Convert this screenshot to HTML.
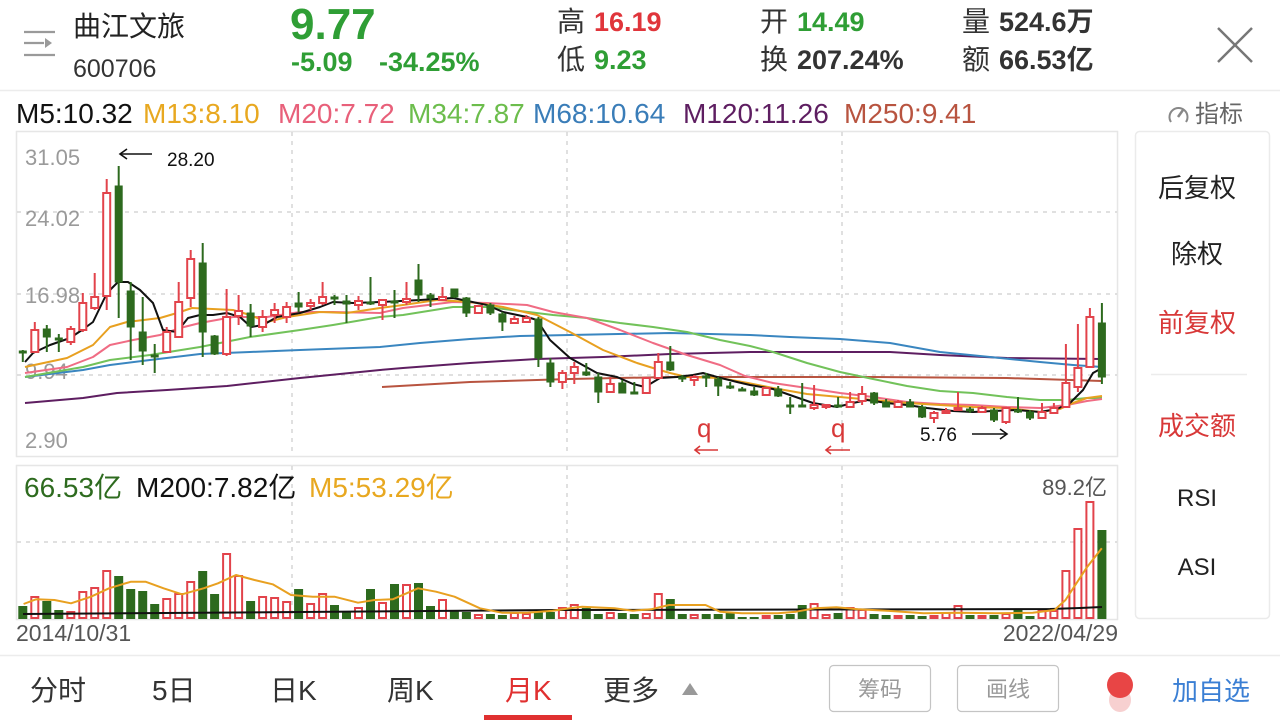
<!DOCTYPE html>
<html><head><meta charset="utf-8"><style>
html,body{margin:0;padding:0;background:#fff;width:1280px;height:720px;overflow:hidden}
svg{display:block}
text{font-family:"Liberation Sans","Noto Sans CJK SC",sans-serif}
</style></head><body>
<svg width="1280" height="720" viewBox="0 0 1280 720" xmlns="http://www.w3.org/2000/svg">
<rect width="1280" height="720" fill="#fff"/>
<!-- header -->
<g stroke="#9a9a9a" stroke-width="2.2" fill="none">
<line x1="24" y1="32" x2="55" y2="32"/><line x1="24" y1="43" x2="44" y2="43"/><line x1="24" y1="55" x2="55" y2="55"/>
</g>
<polygon points="45,38 52,43 45,48" fill="#9a9a9a"/>
<text x="73" y="36" font-size="28" fill="#222">曲江文旅</text>
<text x="73" y="77" font-size="25" fill="#333">600706</text>
<text x="290" y="39" font-size="44" font-weight="bold" fill="#2f9e35">9.77</text>
<text x="291" y="71" font-size="27" font-weight="bold" fill="#2f9e35">-5.09</text>
<text x="379" y="71" font-size="27" font-weight="bold" fill="#2f9e35">-34.25%</text>
<text x="557" y="31" font-size="28" fill="#333">高</text><text x="594" y="31" font-size="27" font-weight="bold" fill="#e0353b">16.19</text>
<text x="557" y="69" font-size="28" fill="#333">低</text><text x="594" y="69" font-size="27" font-weight="bold" fill="#2f9e35">9.23</text>
<text x="760" y="31" font-size="28" fill="#333">开</text><text x="797" y="31" font-size="27" font-weight="bold" fill="#2f9e35">14.49</text>
<text x="760" y="69" font-size="28" fill="#333">换</text><text x="797" y="69" font-size="27" font-weight="bold" fill="#333">207.24%</text>
<text x="962" y="31" font-size="28" fill="#333">量</text><text x="999" y="31" font-size="27" font-weight="bold" fill="#333">524.6万</text>
<text x="962" y="69" font-size="28" fill="#333">额</text><text x="999" y="69" font-size="27" font-weight="bold" fill="#333">66.53亿</text>
<g stroke="#777" stroke-width="2.5"><line x1="1218" y1="28" x2="1252" y2="62"/><line x1="1252" y1="28" x2="1218" y2="62"/></g>
<line x1="0" y1="90.5" x2="1280" y2="90.5" stroke="#ececec" stroke-width="1.5"/>
<!-- MA legend -->
<g font-size="28">
<text x="16" y="123" fill="#111">M5:10.32</text>
<text x="143" y="123" fill="#e8a820">M13:8.10</text>
<text x="278" y="123" fill="#e8607a">M20:7.72</text>
<text x="408" y="123" fill="#6cbd4c">M34:7.87</text>
<text x="533" y="123" fill="#3a7db8">M68:10.64</text>
<text x="683" y="123" fill="#5e1e61">M120:11.26</text>
<text x="844" y="123" fill="#b85440">M250:9.41</text>
</g>
<path d="M1171,122 A9,9 0 1 1 1186,122" fill="none" stroke="#888" stroke-width="2"/>
<line x1="1178" y1="117" x2="1183" y2="110" stroke="#888" stroke-width="2.5"/>
<text x="1195" y="122" font-size="24" fill="#666">指标</text>
<!-- main frame -->
<rect x="16.5" y="131.5" width="1101" height="325" fill="#fff" stroke="#e6e6e6" stroke-width="1.5"/>
<g stroke="#d6d6d6" stroke-width="1.5" stroke-dasharray="4,5">
<line x1="17" y1="212" x2="1117" y2="212"/><line x1="17" y1="294" x2="1117" y2="294"/><line x1="17" y1="375" x2="1117" y2="375"/>
<line x1="292" y1="132" x2="292" y2="456"/><line x1="567" y1="132" x2="567" y2="456"/><line x1="842" y1="132" x2="842" y2="456"/>
</g>
<g font-size="22" fill="#9a9a9a">
<text x="25" y="165">31.05</text><text x="25" y="226">24.02</text><text x="25" y="303">16.98</text><text x="25" y="379">9.94</text><text x="25" y="448">2.90</text>
</g>
<!-- moving averages -->
<g fill="none" stroke-width="2" stroke-linejoin="round">
<polyline stroke="#5e1e61" points="25,403 83,398 117,393 167,390 227,386 300,378 380,370 403,368 470,363 537,359 603,357 670,354 750,352 840,352 890,352 940,355 1007,358 1102,359"/>
<polyline stroke="#b85440" points="382,387 470,382 570,379 670,377 750,377 873,377 1007,378 1102,381"/>
<polyline stroke="#3a86c0" points="25,377 83,370 110,365 150,360 200,354 250,352 300,350 380,347 420,343 470,339 520,336 570,335 670,333 750,335 790,337 840,339 890,343 940,352 990,357 1040,362 1073,365 1102,367"/>
<polyline stroke="#72c25a" points="25,377 83,367 110,360 150,355 200,347 250,337 300,330 333,325 380,317 403,315 453,307 487,307 520,311 553,315 587,318 620,323 653,327 687,332 720,340 750,346 773,352 807,363 840,372 873,379 907,386 940,391 973,393 1007,397 1040,400 1067,400 1087,398 1102,398"/>
<polyline stroke="#f06c84" points="25,373 67,367 93,357 110,345 133,340 160,335 180,328 200,323 233,317 267,317 300,312 333,312 380,313 403,308 453,302 487,303 527,305 553,312 587,318 620,330 653,343 687,355 720,365 745,376 773,383 807,388 840,393 873,397 907,402 940,404 973,405 1007,407 1040,408 1067,405 1087,401 1102,399"/>
<polyline stroke="#e8a020" points="25,367 67,358 93,345 110,327 127,322 160,318 177,313 192,308 233,310 250,315 267,322 287,317 320,312 347,313 380,308 403,305 437,300 470,302 503,307 537,315 570,332 603,350 637,363 653,368 670,373 687,377 720,378 748,383 773,388 807,394 840,397 873,400 907,403 940,405 973,407 1007,408 1040,412 1060,409 1073,403 1087,398 1102,396"/>
<polyline stroke="#111" points="25,362 33,353 50,345 70,338 82,330 93,322 107,293 118,282 128,282 140,290 153,303 163,330 177,332 188,318 200,315 213,315 227,313 240,317 251,327 263,325 277,317 300,313 320,307 333,302 353,303 380,302 420,300 453,298 487,305 503,312 527,317 537,320 550,340 570,358 597,373 617,377 633,384 645,387 660,378 677,377 693,375 703,373 717,377 737,382 750,385 773,389 790,395 813,403 837,407 853,403 867,400 887,403 907,405 927,408 953,411 973,412 993,411 1017,410 1040,412 1057,409 1070,403 1083,390 1093,373 1102,368"/>
</g>
<!-- green candles -->
<g fill="#2d6a1e" stroke="#2d6a1e" stroke-width="2">
<line x1="22.8" y1="350" x2="22.8" y2="362"/><rect x="19.3" y="351" width="7" height="2" stroke-width="1"/>
<line x1="46.8" y1="325" x2="46.8" y2="352"/><rect x="43.3" y="329" width="7" height="8" stroke-width="1"/>
<line x1="58.8" y1="334" x2="58.8" y2="352"/><rect x="55.3" y="338" width="7" height="2" stroke-width="1"/>
<line x1="118.7" y1="166" x2="118.7" y2="318"/><rect x="115.2" y="186" width="7" height="96" stroke-width="1"/>
<line x1="130.7" y1="282" x2="130.7" y2="360"/><rect x="127.2" y="291" width="7" height="36" stroke-width="1"/>
<line x1="142.7" y1="297" x2="142.7" y2="365"/><rect x="139.2" y="332" width="7" height="19" stroke-width="1"/>
<line x1="154.7" y1="344" x2="154.7" y2="373"/><rect x="151.2" y="355" width="7" height="2" stroke-width="1"/>
<line x1="202.7" y1="243" x2="202.7" y2="357"/><rect x="199.2" y="263" width="7" height="69" stroke-width="1"/>
<line x1="214.6" y1="335" x2="214.6" y2="355"/><rect x="211.1" y="336" width="7" height="18" stroke-width="1"/>
<line x1="250.6" y1="304" x2="250.6" y2="337"/><rect x="247.1" y="313" width="7" height="13" stroke-width="1"/>
<line x1="298.6" y1="292" x2="298.6" y2="312"/><rect x="295.1" y="303" width="7" height="4" stroke-width="1"/>
<line x1="334.5" y1="295" x2="334.5" y2="305"/><rect x="331" y="297" width="7" height="2" stroke-width="1"/>
<line x1="346.5" y1="295" x2="346.5" y2="323"/><rect x="343" y="301" width="7" height="3" stroke-width="1"/>
<line x1="370.5" y1="277" x2="370.5" y2="305"/><rect x="367" y="302" width="7" height="2" stroke-width="1"/>
<line x1="394.5" y1="290" x2="394.5" y2="318"/><rect x="391" y="301" width="7" height="2" stroke-width="1"/>
<line x1="418.5" y1="264" x2="418.5" y2="302"/><rect x="415" y="280" width="7" height="15" stroke-width="1"/>
<line x1="430.5" y1="293" x2="430.5" y2="307"/><rect x="427" y="295" width="7" height="3" stroke-width="1"/>
<line x1="454.4" y1="289" x2="454.4" y2="298"/><rect x="450.9" y="289" width="7" height="8" stroke-width="1"/>
<line x1="466.4" y1="297" x2="466.4" y2="317"/><rect x="462.9" y="298" width="7" height="15" stroke-width="1"/>
<line x1="490.4" y1="303" x2="490.4" y2="315"/><rect x="486.9" y="305" width="7" height="8" stroke-width="1"/>
<line x1="502.4" y1="312" x2="502.4" y2="331"/><rect x="498.9" y="314" width="7" height="8" stroke-width="1"/>
<line x1="538.4" y1="317" x2="538.4" y2="367"/><rect x="534.9" y="319" width="7" height="39" stroke-width="1"/>
<line x1="550.4" y1="358" x2="550.4" y2="387"/><rect x="546.9" y="363" width="7" height="19" stroke-width="1"/>
<line x1="586.3" y1="363" x2="586.3" y2="376"/><rect x="582.8" y="372" width="7" height="3" stroke-width="1"/>
<line x1="598.3" y1="373" x2="598.3" y2="403"/><rect x="594.8" y="377" width="7" height="15" stroke-width="1"/>
<line x1="622.3" y1="380" x2="622.3" y2="393"/><rect x="618.8" y="383" width="7" height="10" stroke-width="1"/>
<line x1="634.3" y1="382" x2="634.3" y2="393"/><rect x="630.8" y="392" width="7" height="2" stroke-width="1"/>
<line x1="670.3" y1="346" x2="670.3" y2="371"/><rect x="666.8" y="362" width="7" height="8" stroke-width="1"/>
<line x1="682.3" y1="375" x2="682.3" y2="382"/><rect x="678.8" y="377" width="7" height="2" stroke-width="1"/>
<line x1="706.2" y1="373" x2="706.2" y2="387"/><rect x="702.7" y="376" width="7" height="2" stroke-width="1"/>
<line x1="718.2" y1="377" x2="718.2" y2="396"/><rect x="714.7" y="379" width="7" height="7" stroke-width="1"/>
<line x1="730.2" y1="382" x2="730.2" y2="389"/><rect x="726.7" y="386" width="7" height="2" stroke-width="1"/>
<line x1="742.2" y1="387" x2="742.2" y2="391"/><rect x="738.7" y="389" width="7" height="2" stroke-width="1"/>
<line x1="754.2" y1="387" x2="754.2" y2="396"/><rect x="750.7" y="391" width="7" height="4" stroke-width="1"/>
<line x1="778.2" y1="386" x2="778.2" y2="397"/><rect x="774.7" y="389" width="7" height="7" stroke-width="1"/>
<line x1="790.2" y1="397" x2="790.2" y2="414"/><rect x="786.7" y="405" width="7" height="2" stroke-width="1"/>
<line x1="802.2" y1="383" x2="802.2" y2="407"/><rect x="798.7" y="405" width="7" height="2" stroke-width="1"/>
<line x1="838.1" y1="397" x2="838.1" y2="407"/><rect x="834.6" y="405" width="7" height="2" stroke-width="1"/>
<line x1="874.1" y1="392" x2="874.1" y2="405"/><rect x="870.6" y="393" width="7" height="10" stroke-width="1"/>
<line x1="886.1" y1="399" x2="886.1" y2="407"/><rect x="882.6" y="402" width="7" height="5" stroke-width="1"/>
<line x1="910.1" y1="399" x2="910.1" y2="407"/><rect x="906.6" y="402" width="7" height="5" stroke-width="1"/>
<line x1="922.1" y1="405" x2="922.1" y2="418"/><rect x="918.6" y="407" width="7" height="10" stroke-width="1"/>
<line x1="970" y1="407" x2="970" y2="413"/><rect x="966.5" y="409" width="7" height="2" stroke-width="1"/>
<line x1="994" y1="408" x2="994" y2="422"/><rect x="990.5" y="410" width="7" height="10" stroke-width="1"/>
<line x1="1018" y1="397" x2="1018" y2="413"/><rect x="1014.5" y="410" width="7" height="2" stroke-width="1"/>
<line x1="1030" y1="410" x2="1030" y2="420"/><rect x="1026.5" y="412" width="7" height="6" stroke-width="1"/>
<line x1="1101.9" y1="303" x2="1101.9" y2="384"/><rect x="1098.4" y="323" width="7" height="54" stroke-width="1"/>
</g>
<!-- red candles -->
<g fill="#fff" stroke="#e2434b" stroke-width="2">
<line x1="34.8" y1="322" x2="34.8" y2="353"/><rect x="31.3" y="330" width="7" height="22"/>
<line x1="70.8" y1="326" x2="70.8" y2="345"/><rect x="67.3" y="329" width="7" height="13"/>
<line x1="82.8" y1="293" x2="82.8" y2="332"/><rect x="79.3" y="303" width="7" height="27"/>
<line x1="94.7" y1="273" x2="94.7" y2="310"/><rect x="91.2" y="297" width="7" height="11"/>
<line x1="106.7" y1="179" x2="106.7" y2="310"/><rect x="103.2" y="193" width="7" height="103"/>
<line x1="166.7" y1="327" x2="166.7" y2="353"/><rect x="163.2" y="332" width="7" height="20"/>
<line x1="178.7" y1="282" x2="178.7" y2="338"/><rect x="175.2" y="302" width="7" height="35"/>
<line x1="190.7" y1="250" x2="190.7" y2="307"/><rect x="187.2" y="259" width="7" height="39"/>
<line x1="226.6" y1="289" x2="226.6" y2="356"/><rect x="223.1" y="317" width="7" height="37"/>
<line x1="238.6" y1="295" x2="238.6" y2="325"/><rect x="235.1" y="311" width="7" height="5"/>
<line x1="262.6" y1="310" x2="262.6" y2="332"/><rect x="259.1" y="317" width="7" height="10"/>
<line x1="274.6" y1="303" x2="274.6" y2="323"/><rect x="271.1" y="310" width="7" height="5"/>
<line x1="286.6" y1="302" x2="286.6" y2="323"/><rect x="283.1" y="307" width="7" height="10"/>
<line x1="310.6" y1="299" x2="310.6" y2="310"/><rect x="307.1" y="303" width="7" height="3"/>
<line x1="322.6" y1="282" x2="322.6" y2="305"/><rect x="319.1" y="297" width="7" height="6"/>
<line x1="358.5" y1="296" x2="358.5" y2="310"/><rect x="355" y="301" width="7" height="4"/>
<line x1="382.5" y1="300" x2="382.5" y2="320"/><rect x="379" y="300" width="7" height="5"/>
<line x1="406.5" y1="282" x2="406.5" y2="305"/><rect x="403" y="299" width="7" height="3"/>
<line x1="442.5" y1="287" x2="442.5" y2="300"/><rect x="439" y="297" width="7" height="3"/>
<line x1="478.4" y1="305" x2="478.4" y2="314"/><rect x="474.9" y="306" width="7" height="7"/>
<line x1="514.4" y1="316" x2="514.4" y2="323"/><rect x="510.9" y="319" width="7" height="4"/>
<line x1="526.4" y1="315" x2="526.4" y2="322"/><rect x="522.9" y="318" width="7" height="4"/>
<line x1="562.4" y1="370" x2="562.4" y2="389"/><rect x="558.9" y="373" width="7" height="9"/>
<line x1="574.3" y1="362" x2="574.3" y2="384"/><rect x="570.8" y="367" width="7" height="6"/>
<line x1="610.3" y1="377" x2="610.3" y2="393"/><rect x="606.8" y="384" width="7" height="8"/>
<line x1="646.3" y1="377" x2="646.3" y2="393"/><rect x="642.8" y="378" width="7" height="15"/>
<line x1="658.3" y1="353" x2="658.3" y2="379"/><rect x="654.8" y="362" width="7" height="16"/>
<line x1="694.2" y1="375" x2="694.2" y2="386"/><rect x="690.7" y="377" width="7" height="3"/>
<line x1="766.2" y1="387" x2="766.2" y2="396"/><rect x="762.7" y="388" width="7" height="7"/>
<line x1="814.1" y1="385" x2="814.1" y2="410"/><rect x="810.6" y="405" width="7" height="3"/>
<line x1="826.1" y1="404" x2="826.1" y2="409"/><rect x="822.6" y="405" width="7" height="2"/>
<line x1="850.1" y1="392" x2="850.1" y2="407"/><rect x="846.6" y="402" width="7" height="5"/>
<line x1="862.1" y1="386" x2="862.1" y2="405"/><rect x="858.6" y="394" width="7" height="7"/>
<line x1="898.1" y1="400" x2="898.1" y2="407"/><rect x="894.6" y="402" width="7" height="5"/>
<line x1="934" y1="411" x2="934" y2="423"/><rect x="930.5" y="413" width="7" height="5"/>
<line x1="946" y1="408" x2="946" y2="414"/><rect x="942.5" y="411" width="7" height="2"/>
<line x1="958" y1="392" x2="958" y2="411"/><rect x="954.5" y="408" width="7" height="2"/>
<line x1="982" y1="406" x2="982" y2="412"/><rect x="978.5" y="408" width="7" height="4"/>
<line x1="1006" y1="407" x2="1006" y2="424"/><rect x="1002.5" y="408" width="7" height="14"/>
<line x1="1042" y1="403" x2="1042" y2="419"/><rect x="1038.5" y="412" width="7" height="6"/>
<line x1="1053.9" y1="403" x2="1053.9" y2="414"/><rect x="1050.4" y="408" width="7" height="5"/>
<line x1="1065.9" y1="344" x2="1065.9" y2="408"/><rect x="1062.4" y="383" width="7" height="24"/>
<line x1="1077.9" y1="324" x2="1077.9" y2="392"/><rect x="1074.4" y="368" width="7" height="19"/>
<line x1="1089.9" y1="308" x2="1089.9" y2="368"/><rect x="1086.4" y="317" width="7" height="50"/>
</g>
<!-- annotations -->
<g stroke="#111" stroke-width="1.6" fill="none">
<line x1="120" y1="154" x2="152" y2="154"/><polyline points="127,149 120,154 127,159"/>
<line x1="972" y1="434" x2="1007" y2="434"/><polyline points="1000,429 1007,434 1000,439"/>
</g>
<text x="167" y="166" font-size="19" fill="#111">28.20</text>
<text x="920" y="441" font-size="19" fill="#111">5.76</text>
<g fill="#d83838" font-size="26"><text x="697" y="437">q</text><text x="831" y="437">q</text></g>
<g stroke="#d83838" stroke-width="1.6" fill="none">
<line x1="695" y1="450" x2="718" y2="450"/><polyline points="700,446 695,450 700,454"/>
<line x1="826" y1="450" x2="850" y2="450"/><polyline points="831,446 826,450 831,454"/>
</g>
<!-- volume -->
<rect x="16.5" y="465.5" width="1101" height="154" fill="none" stroke="#e6e6e6" stroke-width="1.5"/>
<g stroke="#d6d6d6" stroke-width="1.5" stroke-dasharray="4,5">
<line x1="17" y1="542" x2="1117" y2="542"/>
<line x1="292" y1="466" x2="292" y2="619"/><line x1="567" y1="466" x2="567" y2="619"/><line x1="842" y1="466" x2="842" y2="619"/>
</g>
<text x="24" y="497" font-size="28" fill="#2e6b1f">66.53亿</text>
<text x="136" y="497" font-size="28" fill="#111">M200:7.82亿</text>
<text x="309" y="497" font-size="28" fill="#e8a820">M5:53.29亿</text>
<text x="1107" y="495" font-size="22" fill="#555" text-anchor="end">89.2亿</text>
<g fill="#2d6a1e">
<rect x="18.3" y="606" width="9" height="13"/><rect x="42.3" y="601" width="9" height="18"/><rect x="54.3" y="610" width="9" height="9"/>
<rect x="114.2" y="576" width="9" height="43"/><rect x="126.2" y="589" width="9" height="30"/><rect x="138.2" y="591" width="9" height="28"/><rect x="150.2" y="604" width="9" height="15"/>
<rect x="198.2" y="571" width="9" height="48"/><rect x="210.1" y="594" width="9" height="25"/><rect x="246.1" y="601" width="9" height="18"/>
<rect x="294.1" y="589" width="9" height="30"/><rect x="330" y="605" width="9" height="14"/><rect x="342" y="611" width="9" height="8"/>
<rect x="366" y="589" width="9" height="30"/><rect x="390" y="584" width="9" height="35"/><rect x="414" y="583" width="9" height="36"/><rect x="426" y="606" width="9" height="13"/>
<rect x="449.9" y="611" width="9" height="8"/><rect x="461.9" y="612" width="9" height="7"/><rect x="485.9" y="614" width="9" height="5"/><rect x="497.9" y="615" width="9" height="4"/>
<rect x="533.9" y="612" width="9" height="7"/><rect x="545.9" y="612" width="9" height="7"/><rect x="581.8" y="608" width="9" height="11"/><rect x="593.8" y="614" width="9" height="5"/>
<rect x="617.8" y="613" width="9" height="6"/><rect x="629.8" y="614" width="9" height="5"/><rect x="665.8" y="599" width="9" height="20"/><rect x="677.8" y="614" width="9" height="5"/>
<rect x="701.7" y="614" width="9" height="5"/><rect x="713.7" y="614" width="9" height="5"/><rect x="725.7" y="613" width="9" height="6"/><rect x="737.7" y="617" width="9" height="2"/>
<rect x="749.7" y="617" width="9" height="2"/><rect x="773.7" y="615" width="9" height="4"/><rect x="785.7" y="614" width="9" height="5"/><rect x="797.7" y="605" width="9" height="14"/>
<rect x="833.6" y="613" width="9" height="6"/><rect x="869.6" y="614" width="9" height="5"/><rect x="881.6" y="615" width="9" height="4"/><rect x="905.6" y="615" width="9" height="4"/>
<rect x="917.6" y="616" width="9" height="3"/><rect x="965.5" y="615" width="9" height="4"/><rect x="989.5" y="615" width="9" height="4"/><rect x="1013.5" y="609" width="9" height="10"/>
<rect x="1025.5" y="616" width="9" height="3"/><rect x="1097.4" y="530" width="9" height="89"/>
</g>
<g fill="#fff" stroke="#e2434b" stroke-width="2">
<rect x="31.3" y="597" width="7" height="21"/><rect x="67.3" y="612" width="7" height="6"/><rect x="79.3" y="592" width="7" height="26"/><rect x="91.2" y="588" width="7" height="30"/>
<rect x="103.2" y="571" width="7" height="47"/><rect x="163.2" y="599" width="7" height="19"/><rect x="175.2" y="594" width="7" height="24"/><rect x="187.2" y="582" width="7" height="36"/>
<rect x="223.1" y="554" width="7" height="64"/><rect x="235.1" y="576" width="7" height="42"/><rect x="259.1" y="597" width="7" height="21"/><rect x="271.1" y="598" width="7" height="20"/>
<rect x="283.1" y="602" width="7" height="16"/><rect x="307.1" y="604" width="7" height="14"/><rect x="319.1" y="594" width="7" height="24"/><rect x="355" y="608" width="7" height="10"/>
<rect x="379" y="603" width="7" height="15"/><rect x="403" y="585" width="7" height="33"/><rect x="439" y="600" width="7" height="18"/><rect x="474.9" y="615" width="7" height="3"/>
<rect x="510.9" y="613" width="7" height="5"/><rect x="522.9" y="614" width="7" height="4"/><rect x="558.9" y="608" width="7" height="10"/><rect x="570.8" y="605" width="7" height="13"/>
<rect x="606.8" y="613" width="7" height="5"/><rect x="642.8" y="614" width="7" height="4"/><rect x="654.8" y="594" width="7" height="24"/><rect x="690.7" y="615" width="7" height="3"/>
<rect x="762.7" y="616" width="7" height="2"/><rect x="810.6" y="604" width="7" height="14"/><rect x="822.6" y="615" width="7" height="3"/><rect x="846.6" y="608" width="7" height="10"/>
<rect x="858.6" y="610" width="7" height="8"/><rect x="894.6" y="616" width="7" height="2"/><rect x="930.5" y="616" width="7" height="2"/><rect x="942.5" y="613" width="7" height="5"/>
<rect x="954.5" y="606" width="7" height="12"/><rect x="978.5" y="616" width="7" height="2"/><rect x="1002.5" y="614" width="7" height="4"/><rect x="1038.5" y="611" width="7" height="7"/>
<rect x="1050.4" y="611" width="7" height="7"/><rect x="1062.4" y="571" width="7" height="47"/><rect x="1074.4" y="529" width="7" height="89"/><rect x="1086.4" y="502" width="7" height="116"/>
</g>
<g fill="none" stroke-width="2" stroke-linejoin="round">
<polyline stroke="#111" points="23,614 300,612 560,610 1050,609 1080,608 1102,607"/>
<polyline stroke="#e8a020" points="23.6,604 36,599.3 54.5,600 71,603.3 91,596.7 109,588.3 131,581.7 145.5,581.7 163.6,588.3 182,594.3 203.6,588.3 218,583.3 236,575 254.5,580 272.7,584.3 291,595 312.7,596.7 334.5,596.7 358,602.7 374.5,600 392.7,599.3 418,588.3 436,591.7 454.5,596.7 480,608.3 501.8,612.7 527,612.7 552.7,610.7 570,608.3 582,606.7 614.5,608.3 632.7,610.7 651,609.3 669,605 705.5,605 720,611.7 741.8,613.3 778,613.3 796,611.7 814.5,608.3 836.4,607.3 858,609.3 887,610.7 923.6,613.3 960,612.7 996,613.3 1032.7,612.7 1054.5,610 1065.5,600 1076.4,583.3 1087.3,566.7 1101.8,548.3"/>
</g>
<text x="16" y="641" font-size="23" fill="#555">2014/10/31</text>
<text x="1118" y="641" font-size="23" fill="#555" text-anchor="end">2022/04/29</text>
<!-- right panel -->
<rect x="1135.5" y="131.5" width="134" height="487" rx="4" fill="#fff" stroke="#ebebeb" stroke-width="1.5"/>
<g font-size="26" text-anchor="middle">
<text x="1197" y="197" fill="#222">后复权</text>
<text x="1197" y="263" fill="#222">除权</text>
<text x="1197" y="332" fill="#d83838">前复权</text>
<text x="1197" y="435" fill="#d83838">成交额</text>
<text x="1197" y="506" fill="#222" font-size="24">RSI</text>
<text x="1197" y="575" fill="#222" font-size="24">ASI</text>
</g>
<line x1="1151" y1="374.5" x2="1247" y2="374.5" stroke="#ececec" stroke-width="1.5"/>
<!-- bottom tabs -->
<line x1="0" y1="655.5" x2="1280" y2="655.5" stroke="#ececec" stroke-width="1.5"/>
<g font-size="28" fill="#333">
<text x="30" y="700">分时</text><text x="152" y="700">5日</text><text x="270" y="700">日K</text><text x="387" y="700">周K</text>
<text x="505" y="700" fill="#e03030">月K</text><text x="603" y="700">更多</text>
</g>
<polygon points="682,695 698,695 690,683" fill="#999"/>
<rect x="484" y="715" width="88" height="5" fill="#e03030"/>
<rect x="829.5" y="665.5" width="101" height="46" rx="4" fill="#fff" stroke="#c4c4c4" stroke-width="1.2"/>
<rect x="957.5" y="665.5" width="101" height="46" rx="4" fill="#fff" stroke="#c4c4c4" stroke-width="1.2"/>
<g font-size="22" fill="#999" text-anchor="middle"><text x="880" y="697">筹码</text><text x="1008" y="697">画线</text></g>
<ellipse cx="1120" cy="700" rx="11" ry="12" fill="#f2b0b0" opacity="0.6"/>
<ellipse cx="1120" cy="685" rx="13" ry="13" fill="#e84545"/>
<text x="1172" y="700" font-size="26" fill="#3b7fd4">加自选</text>
</svg>
</body></html>
